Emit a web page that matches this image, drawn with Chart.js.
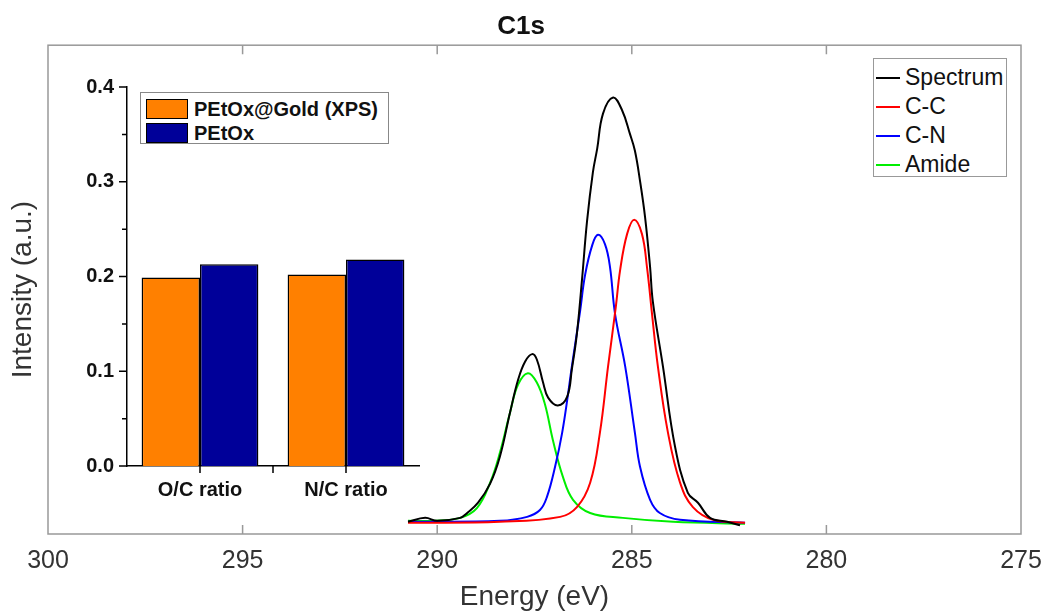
<!DOCTYPE html>
<html>
<head>
<meta charset="utf-8">
<script src="https://cdn.jsdelivr.net/npm/chart.js@4.4.1/dist/chart.umd.min.js"></script>
<style>
  body { margin: 0; background: #fff; font-family: "Liberation Sans", Arial, sans-serif; }
  #wrap { position: relative; width: 1042px; height: 611px; overflow: hidden; }
  #main { position: absolute; left: 0; top: 0; }
  #inset { position: absolute; left: 40px; top: 70px; }
  .legend { position: absolute; background: #fff; box-sizing: border-box; }
  #mainLegend { left: 873px; top: 58px; width: 134px; height: 119px; border: 1px solid #999; padding-top: 4px; }
  #mainLegend .row { height: 29px; display: flex; align-items: center; font-size: 23px; color: #111; }
  #mainLegend .line { width: 24px; height: 2px; margin: 0 5px 0 2px; }
  #insetLegend { left: 140px; top: 92px; width: 249px; height: 52px; border: 1px solid #888; padding-top: 4px; }
  #insetLegend .row { height: 24px; display: flex; align-items: center; font-size: 20px; font-weight: bold; color: #111; }
  #insetLegend .sw { width: 42px; height: 20px; box-sizing: border-box; border: 1.5px solid #000; margin: 0 6px 0 5px; }
</style>
</head>
<body>
<div id="wrap">
  <canvas id="main" width="1042" height="611"></canvas>
  <canvas id="inset" width="390" height="450"></canvas>
  <div id="mainLegend" class="legend"></div>
  <div id="insetLegend" class="legend"></div>
</div>
<script>
// C1s spectrum and fitted components (eV, a.u.)
const spectrumE = [290.75, 290.31, 290.00, 289.41, 289.23, 288.95, 288.64, 288.39, 288.13, 287.92, 287.74, 287.56, 287.44, 287.28, 287.15, 286.90, 286.66, 286.54, 286.41, 286.28, 286.15, 286.00, 285.89, 285.74, 285.48, 285.25, 285.05, 284.92, 284.79, 284.66, 284.53, 284.46, 284.20, 283.89, 283.56, 283.30, 282.99, 282.55, 282.22];
const spectrumI = [0.025, 0.033, 0.027, 0.033, 0.043, 0.064, 0.103, 0.158, 0.248, 0.316, 0.353, 0.368, 0.357, 0.310, 0.279, 0.263, 0.281, 0.337, 0.410, 0.520, 0.640, 0.740, 0.788, 0.860, 0.893, 0.867, 0.819, 0.784, 0.723, 0.649, 0.546, 0.476, 0.343, 0.179, 0.084, 0.064, 0.033, 0.025, 0.018];

const ccE = [290.75, 288.39, 286.84, 286.41, 286.07, 285.82, 285.61, 285.41, 285.30, 285.12, 284.94, 284.74, 284.61, 284.48, 284.33, 284.07, 283.76, 283.43, 282.91, 282.09];
const ccI = [0.023, 0.025, 0.035, 0.055, 0.105, 0.207, 0.343, 0.465, 0.540, 0.614, 0.643, 0.614, 0.546, 0.450, 0.343, 0.207, 0.105, 0.055, 0.029, 0.023];

const cnE = [290.75, 288.39, 287.69, 287.36, 287.18, 286.97, 286.79, 286.64, 286.54, 286.33, 286.20, 286.02, 285.87, 285.69, 285.56, 285.43, 285.17, 284.92, 284.79, 284.53, 284.28, 283.76, 282.09];
const cnI = [0.025, 0.027, 0.035, 0.049, 0.076, 0.138, 0.207, 0.285, 0.343, 0.455, 0.530, 0.590, 0.612, 0.593, 0.546, 0.450, 0.343, 0.207, 0.138, 0.070, 0.043, 0.029, 0.023];

const amideE = [290.75, 290.11, 289.41, 288.98, 288.64, 288.39, 288.13, 287.92, 287.67, 287.44, 287.23, 287.03, 286.77, 286.51, 286.07, 285.23, 283.94, 282.09];
const amideI = [0.027, 0.027, 0.033, 0.053, 0.105, 0.166, 0.248, 0.306, 0.329, 0.310, 0.265, 0.193, 0.117, 0.070, 0.043, 0.033, 0.025, 0.021];

// inset bar chart
const ratioLabels = ['O/C ratio', 'N/C ratio'];
const goldXps = [0.199, 0.202];
const petox = [0.213, 0.218];

const FONT = '"Liberation Sans", Arial, sans-serif';

function pts(xs, ys) {
  return xs.map((x, i) => ({ x: x, y: ys[i] }));
}

const series = [
  { label: 'Spectrum', color: '#000000', data: pts(spectrumE, spectrumI) },
  { label: 'C-C', color: '#FF0000', data: pts(ccE, ccI) },
  { label: 'C-N', color: '#0000FF', data: pts(cnE, cnI) },
  { label: 'Amide', color: '#00EE00', data: pts(amideE, amideI) }
];

// frame and inward ticks like the original plot
const mainFrame = {
  id: 'mainFrame',
  afterDraw(chart) {
    const { ctx, chartArea: a } = chart;
    const x = chart.scales.x;
    ctx.save();
    ctx.strokeStyle = '#999';
    ctx.lineWidth = 1.5;
    ctx.strokeRect(a.left, a.top, a.right - a.left, a.bottom - a.top);
    x.ticks.forEach(t => {
      const px = x.getPixelForValue(t.value);
      if (px <= a.left + 1 || px >= a.right - 1) return;
      ctx.beginPath();
      ctx.moveTo(px, a.bottom);
      ctx.lineTo(px, a.bottom - 9);
      ctx.moveTo(px, a.top);
      ctx.lineTo(px, a.top + 9);
      ctx.stroke();
    });
    ctx.restore();
  }
};

new Chart(document.getElementById('main'), {
  type: 'line',
  data: {
    datasets: series.map(s => ({
      label: s.label,
      data: s.data,
      borderColor: s.color,
      borderWidth: 2,
      pointRadius: 0,
      tension: 0.4,
      fill: false
    }))
  },
  options: {
    responsive: false,
    animation: false,
    layout: { padding: 0 },
    plugins: {
      legend: { display: false },
      tooltip: { enabled: false },
      title: {
        display: true,
        text: 'C1s',
        color: '#111',
        font: { family: FONT, size: 26, weight: 'bold' },
        padding: { top: 11, bottom: 3 }
      }
    },
    scales: {
      x: {
        type: 'linear',
        min: 275,
        max: 300,
        reverse: true,
        ticks: { stepSize: 5, color: '#333', font: { family: FONT, size: 25 }, padding: 12 },
        grid: { display: false, drawTicks: false },
        border: { display: false },
        title: {
          display: true,
          text: 'Energy (eV)',
          color: '#333',
          font: { family: FONT, size: 28, lineHeight: 1 },
          padding: { top: 0, bottom: 0 }
        },
        afterFit: s => { s.height = 77; s.paddingLeft = 21; s.paddingRight = 21; }
      },
      y: {
        min: 0,
        max: 1,
        ticks: { display: false },
        grid: { display: false, drawTicks: false },
        border: { display: false },
        title: {
          display: true,
          text: 'Intensity (a.u.)',
          color: '#333',
          font: { family: FONT, size: 28 },
          padding: { top: 6, bottom: 0 }
        },
        afterFit: s => { s.width = 48; }
      }
    }
  },
  plugins: [mainFrame]
});

// outward ticks for the inset axes
const insetTicks = {
  id: 'insetTicks',
  afterDraw(chart) {
    const { ctx, chartArea: a } = chart;
    const y = chart.scales.y;
    const x = chart.scales.x;
    ctx.save();
    ctx.strokeStyle = '#000';
    ctx.lineWidth = 1.5;
    ctx.beginPath();
    for (let v = 0; v <= 0.4001; v += 0.05) {
      const py = y.getPixelForValue(v);
      const major = Math.abs(v * 10 - Math.round(v * 10)) < 0.01;
      ctx.moveTo(a.left, py);
      ctx.lineTo(a.left - (major ? 8 : 5), py);
    }
    ratioLabels.forEach((l, i) => {
      const px = x.getPixelForValue(i);
      ctx.moveTo(px, a.bottom);
      ctx.lineTo(px, a.bottom + 7);
    });
    const mid = (x.getPixelForValue(0) + x.getPixelForValue(1)) / 2;
    ctx.moveTo(mid, a.bottom);
    ctx.lineTo(mid, a.bottom + 7);
    ctx.stroke();
    ctx.restore();
  }
};

new Chart(document.getElementById('inset'), {
  type: 'bar',
  data: {
    labels: ratioLabels,
    datasets: [
      { label: 'PEtOx@Gold (XPS)', data: goldXps, backgroundColor: '#FF8000', borderColor: '#000', borderWidth: 1.5, categoryPercentage: 0.8, barPercentage: 1.0 },
      { label: 'PEtOx', data: petox, backgroundColor: '#000099', borderColor: '#000', borderWidth: 1.5, categoryPercentage: 0.8, barPercentage: 1.0 }
    ]
  },
  options: {
    responsive: false,
    animation: false,
    layout: { padding: { top: 17, right: 11 } },
    plugins: { legend: { display: false }, tooltip: { enabled: false } },
    scales: {
      x: {
        ticks: { color: '#111', font: { family: FONT, size: 20, weight: 'bold' }, padding: 12 },
        grid: { display: false, drawTicks: false },
        border: { display: true, color: '#000', width: 1.5 },
        afterFit: s => { s.height = 54; s.paddingLeft = 0; s.paddingRight = 0; }
      },
      y: {
        min: 0,
        max: 0.4,
        ticks: { stepSize: 0.1, color: '#111', font: { family: FONT, size: 20, weight: 'bold' }, padding: 13, callback: v => v.toFixed(1) },
        grid: { display: false, drawTicks: false },
        border: { display: true, color: '#000', width: 1.5 },
        afterFit: s => { s.width = 87; s.paddingTop = 0; s.paddingBottom = 0; }
      }
    }
  },
  plugins: [insetTicks]
});

// legends
const mainLegend = document.getElementById('mainLegend');
series.forEach(s => {
  const row = document.createElement('div');
  row.className = 'row';
  row.innerHTML = `<span class="line" style="background:${s.color}"></span><span>${s.label}</span>`;
  mainLegend.appendChild(row);
});

const insetLegend = document.getElementById('insetLegend');
[['PEtOx@Gold (XPS)', '#FF8000'], ['PEtOx', '#000099']].forEach(([name, col]) => {
  const row = document.createElement('div');
  row.className = 'row';
  row.innerHTML = `<span class="sw" style="background:${col}"></span><span>${name}</span>`;
  insetLegend.appendChild(row);
});
</script>
</body>
</html>
